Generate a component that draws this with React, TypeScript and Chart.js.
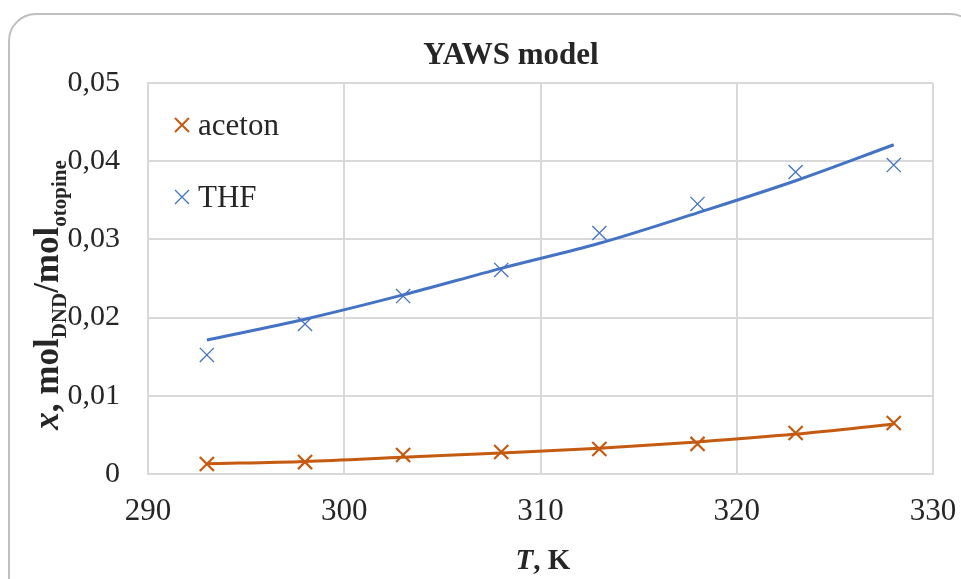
import React, { useEffect, useRef } from "react";
import { Chart, registerables } from "chart.js";

Chart.register(...registerables);

const temperatures = [293, 298, 303, 308, 313, 318, 323, 328];
const acetonMeasured = [0.00128, 0.00153, 0.00243, 0.00281, 0.0032, 0.00384, 0.00524, 0.00652];
const acetonModel = [0.0013, 0.0016, 0.00215, 0.0027, 0.0033, 0.0041, 0.0051, 0.0064];
const thfMeasured = [0.01522, 0.01918, 0.02276, 0.02609, 0.03082, 0.03453, 0.03862, 0.03951];
const thfModel = [0.01714, 0.0198, 0.0229, 0.0263, 0.0295, 0.0334, 0.0375, 0.0421];
const yTickLabels = ["0", "0,01", "0,02", "0,03", "0,04", "0,05"];
const xTickLabels = ["290", "300", "310", "320", "330"];
const seriesNames = ["aceton", "THF"];

const ORANGE = "#C55A11";
const BLUE = "#4472C4";
const TEXT = "#262626";
const GRID = "#d9d9d9";
const SERIF = '"Liberation Serif", "Times New Roman", serif';

const pts = (ys: number[]) => temperatures.map((x, i) => ({ x, y: ys[i] }));

const textPlugin = {
  id: "customTexts",
  afterDraw(chart: any) {
    const ctx: CanvasRenderingContext2D = chart.ctx;
    ctx.save();
    ctx.fillStyle = TEXT;
    // Title
    ctx.font = `bold 31px ${SERIF}`;
    ctx.textAlign = "center";
    ctx.textBaseline = "alphabetic";
    ctx.fillText("YAWS model", 511, 64);

    // X axis title
    ctx.textAlign = "left";
    const f1 = `italic bold 29px ${SERIF}`;
    const f2 = `bold 29px ${SERIF}`;
    ctx.font = f1;
    const wT = ctx.measureText("T").width;
    ctx.font = f2;
    const wR = ctx.measureText(", K").width;
    const sx = 543 - (wT + wR) / 2;
    ctx.font = f1;
    ctx.fillText("T", sx, 569);
    ctx.font = f2;
    ctx.fillText(", K", sx + wT, 569);

    // Y axis title
    const main = 35;
    const sub = 21;
    const segs = [
      { t: "x", f: `italic bold ${main}px ${SERIF}`, dy: 0 },
      { t: ", mol", f: `bold ${main}px ${SERIF}`, dy: 0 },
      { t: "DND", f: `bold ${sub}px ${SERIF}`, dy: 8 },
      { t: "/mol", f: `bold ${main}px ${SERIF}`, dy: 0 },
      { t: "otopine", f: `bold ${sub}px ${SERIF}`, dy: 8 },
    ];
    let total = 0;
    const widths = segs.map((s) => {
      ctx.font = s.f;
      const w = ctx.measureText(s.t).width;
      total += w;
      return w;
    });
    ctx.translate(58, 295);
    ctx.rotate(-Math.PI / 2);
    let cx = -total / 2;
    segs.forEach((s, i) => {
      ctx.font = s.f;
      ctx.fillText(s.t, cx, s.dy);
      cx += widths[i];
    });
    ctx.restore();

    // Legend
    ctx.save();
    const items = [
      { name: seriesNames[0], color: ORANGE, lw: 2, y: 125 },
      { name: seriesNames[1], color: BLUE, lw: 1.3, y: 197 },
    ];
    items.forEach((it) => {
      ctx.strokeStyle = it.color;
      ctx.lineWidth = it.lw;
      ctx.beginPath();
      ctx.moveTo(175, it.y - 7);
      ctx.lineTo(189, it.y + 7);
      ctx.moveTo(189, it.y - 7);
      ctx.lineTo(175, it.y + 7);
      ctx.stroke();
      ctx.fillStyle = TEXT;
      ctx.font = `31px ${SERIF}`;
      ctx.textAlign = "left";
      ctx.textBaseline = "alphabetic";
      ctx.fillText(it.name, 198, it.y + 10);
    });
    ctx.restore();
  },
};

export default function App() {
  const ref = useRef<HTMLCanvasElement>(null);

  useEffect(() => {
    if (!ref.current) return;
    const chart = new Chart(ref.current, {
      type: "scatter",
      data: {
        datasets: [
          {
            label: "aceton fit",
            data: pts(acetonModel),
            showLine: true,
            borderColor: ORANGE,
            borderWidth: 3,
            pointRadius: 0,
            cubicInterpolationMode: "monotone",
          },
          {
            label: "THF fit",
            data: pts(thfModel),
            showLine: true,
            borderColor: BLUE,
            borderWidth: 3,
            pointRadius: 0,
            cubicInterpolationMode: "monotone",
          },
          {
            label: seriesNames[0],
            data: pts(acetonMeasured),
            pointStyle: "crossRot",
            pointRadius: 10,
            pointBorderWidth: 2.2,
            borderColor: ORANGE,
            backgroundColor: ORANGE,
          },
          {
            label: seriesNames[1],
            data: pts(thfMeasured),
            pointStyle: "crossRot",
            pointRadius: 10,
            pointBorderWidth: 1.3,
            borderColor: BLUE,
            backgroundColor: BLUE,
          },
        ],
      } as any,
      options: {
        animation: false,
        responsive: false,
        devicePixelRatio: 1,
        layout: { padding: { left: 0, top: 83, right: 28, bottom: 0 } },
        plugins: {
          legend: { display: false },
          title: { display: false },
          tooltip: { enabled: false },
        },
        scales: {
          x: {
            type: "linear",
            min: 290,
            max: 330,
            ticks: {
              stepSize: 10,
              padding: 19,
              color: TEXT,
              font: { family: SERIF, size: 31 },
              callback: (_v: any, i: number) => xTickLabels[i],
            },
            grid: { color: GRID, lineWidth: 2, drawTicks: false },
            border: { display: true, color: GRID, width: 2 },
            afterFit: (s: any) => {
              s.height = 105;
              s.paddingLeft = 0;
              s.paddingRight = 0;
            },
          },
          y: {
            type: "linear",
            min: 0,
            max: 0.05,
            ticks: {
              stepSize: 0.01,
              padding: 28,
              color: TEXT,
              font: { family: SERIF, size: 30 },
              callback: (_v: any, i: number) => yTickLabels[i],
            },
            grid: { color: GRID, lineWidth: 2, drawTicks: false },
            border: { display: true, color: GRID, width: 2 },
            afterFit: (s: any) => {
              s.width = 148;
              s.paddingTop = 0;
              s.paddingBottom = 0;
            },
          },
        },
      } as any,
      plugins: [textPlugin],
    });
    return () => chart.destroy();
  }, []);

  return (
    <div style={{ position: "fixed", left: 0, top: 0, width: 961, height: 579, overflow: "hidden", background: "#fff" }}>
      <div
        style={{
          position: "absolute",
          left: 8,
          top: 13,
          width: 970,
          height: 640,
          border: "2px solid #bfbfbf",
          borderRadius: 28,
          boxSizing: "border-box",
        }}
      />
      <canvas ref={ref} width={961} height={579} style={{ position: "absolute", left: 0, top: 0, width: 961, height: 579 }} />
    </div>
  );
}
